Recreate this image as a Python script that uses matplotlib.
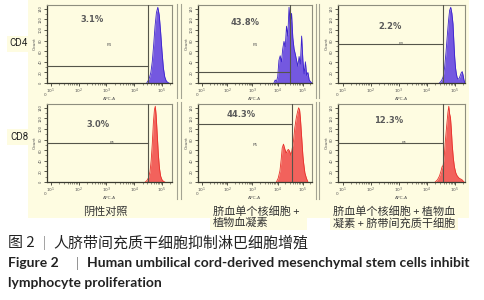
import matplotlib
matplotlib.use('Agg')
import matplotlib.pyplot as plt
from matplotlib.patches import Rectangle
from matplotlib.lines import Line2D
from matplotlib.ticker import FixedLocator

CJK = ['Noto Sans CJK SC', 'DejaVu Sans']
plt.rcParams['font.family'] = ['DejaVu Sans']

W, H = 484, 300

# ---------------- data ----------------
row_labels = ['CD4', 'CD8']
col_labels = [['阴性对照'],
              ['脐血单个核细胞 +', '植物血凝素'],
              ['脐血单个核细胞 + 植物血', '凝素 + 脐带间充质干细胞']]
percents = [['3.1%', '43.8%', '2.2%'],
            ['3.0%', '44.3%', '12.3%']]
gate_names = ['P4', 'P5']
x_tick_values = [1, 2, 3, 4, 5]
x_tick_labels = ['$10^1$', '$10^2$', '$10^3$', '$10^4$', '$10^5$']
y_tick_labels = ['0', '20', '40', '60', '80', '100', '120', '140']

# histograms: x = log10(APC-A), y = relative count
cd4_ctrl_x = [4.45, 4.50, 4.55, 4.60, 4.65, 4.70, 4.75, 4.80, 4.85, 4.90, 4.95, 5.00, 5.05, 5.10, 5.15, 5.20, 5.25]
cd4_ctrl_y = [0.00, 0.03, 0.07, 0.14, 0.28, 0.50, 0.75, 0.93, 1.00, 0.90, 0.68, 0.42, 0.20, 0.08, 0.03, 0.01, 0.00]

cd4_pha_x = [3.85, 3.90, 3.95, 4.00, 4.05, 4.10, 4.15, 4.20, 4.25, 4.30, 4.35, 4.40, 4.45, 4.50, 4.55, 4.60,
             4.65, 4.70, 4.75, 4.80, 4.85, 4.90, 4.95, 5.00, 5.05, 5.10, 5.15, 5.20, 5.25, 5.30, 5.35]
cd4_pha_y = [0.00, 0.04, 0.02, 0.08, 0.30, 0.36, 0.28, 0.45, 0.55, 0.48, 0.75, 0.62, 1.00, 0.78, 0.92, 0.60,
             0.45, 0.38, 0.30, 0.22, 0.35, 0.25, 0.62, 0.30, 0.12, 0.28, 0.10, 0.14, 0.04, 0.02, 0.00]

cd4_msc_x = [4.45, 4.52, 4.58, 4.63, 4.68, 4.73, 4.77, 4.81, 4.85, 4.89, 4.93, 4.96, 4.99, 5.02, 5.05, 5.08,
             5.11, 5.15, 5.19, 5.23, 5.26, 5.29, 5.32, 5.35]
cd4_msc_y = [0.00, 0.03, 0.08, 0.20, 0.40, 0.64, 0.82, 0.96, 1.00, 0.92, 0.78, 0.55, 0.34, 0.20, 0.12, 0.07,
             0.05, 0.06, 0.10, 0.14, 0.15, 0.10, 0.04, 0.00]

cd8_ctrl_x = [4.40, 4.46, 4.52, 4.57, 4.61, 4.65, 4.69, 4.73, 4.76, 4.79, 4.83, 4.87, 4.91, 4.95, 5.00, 5.05, 5.10]
cd8_ctrl_y = [0.00, 0.02, 0.06, 0.14, 0.28, 0.50, 0.78, 0.96, 1.00, 0.88, 0.62, 0.36, 0.18, 0.08, 0.03, 0.01, 0.00]

cd8_pha_x = [3.95, 4.02, 4.09, 4.14, 4.18, 4.23, 4.28, 4.34, 4.39, 4.43, 4.48, 4.53, 4.58, 4.63, 4.68, 4.74,
             4.79, 4.83, 4.87, 4.90, 4.94, 4.97, 5.00, 5.03, 5.08, 5.14, 5.20]
cd8_pha_y = [0.00, 0.05, 0.15, 0.30, 0.45, 0.50, 0.44, 0.38, 0.42, 0.43, 0.40, 0.35, 0.45, 0.55, 0.72, 0.85,
             0.93, 0.98, 0.95, 0.85, 0.65, 0.50, 0.35, 0.25, 0.12, 0.05, 0.00]

cd8_msc_x = [4.30, 4.38, 4.45, 4.50, 4.54, 4.58, 4.62, 4.66, 4.69, 4.72, 4.75, 4.78, 4.81, 4.84, 4.87, 4.90,
             4.94, 4.98, 5.03, 5.08, 5.15, 5.25, 5.32]
cd8_msc_y = [0.00, 0.03, 0.08, 0.14, 0.20, 0.22, 0.35, 0.55, 0.68, 0.80, 0.92, 1.00, 0.90, 0.85, 0.70, 0.50,
             0.32, 0.20, 0.12, 0.08, 0.05, 0.03, 0.00]

hists = [[(cd4_ctrl_x, cd4_ctrl_y), (cd4_pha_x, cd4_pha_y), (cd4_msc_x, cd4_msc_y)],
         [(cd8_ctrl_x, cd8_ctrl_y), (cd8_pha_x, cd8_pha_y), (cd8_msc_x, cd8_msc_y)]]

# gate (vertical position in log10 units, horizontal level in relative count)
gate_x = [[4.50, 4.50, 4.59], [4.50, 4.57, 4.58]]
gate_y = [[0.23, 0.15, 0.52], [0.52, 0.76, 0.52]]

# ---------------- layout / style ----------------
CREAM = '#FEFCE1'
FILL = ['#7458E0', '#F2625C']
EDGE = ['#3B22CC', '#E8302A']
col_geom = [(46.7, 125.0), (198.3, 113.4), (338.3, 126.5)]
row_geom = [(5, 78), (104, 78)]
pct_pos = [[(0.36, 0.82), (0.41, 0.77), (0.41, 0.73)],
           [(0.41, 0.74), (0.38, 0.86), (0.40, 0.79)]]
gname_pos = [[(0.50, 0.49), (0.50, 0.49), (0.50, 0.50)],
             [(0.52, 0.50), (0.50, 0.47), (0.52, 0.50)]]

fig = plt.figure(figsize=(W / 100, H / 100), dpi=100)
fig.patch.set_facecolor('white')


def frect(x0, y0, x1, y1, color):
    fig.patches.append(Rectangle((x0 / W, 1 - y1 / H), (x1 - x0) / W, (y1 - y0) / H,
                                 transform=fig.transFigure, facecolor=color,
                                 edgecolor='none', zorder=-5))


def fline(x0, y0, x1, y1, color, lw):
    fig.lines.append(Line2D([x0 / W, x1 / W], [1 - y0 / H, 1 - y1 / H],
                            transform=fig.transFigure, color=color, lw=lw, zorder=-4))


# cream backgrounds
frect(28, 0, 469, 218, CREAM)
frect(210, 218, 307, 230, CREAM)
frect(330, 218, 458, 230, CREAM)
frect(7, 36, 30, 52, CREAM)
frect(7, 129, 30, 145, CREAM)

# separator double lines
for xs in (177, 180.5, 315.5, 318.5):
    fline(xs, 4, xs, 98, '#A4A493', 0.8)
    fline(xs, 102, xs, 199, '#A4A493', 0.8)

minor_x = [d + m for d in range(1, 6) for m in
           [0.301, 0.477, 0.602, 0.699, 0.778, 0.845, 0.903, 0.954]]

for r, (top, h) in enumerate(row_geom):
    for c, (left, w) in enumerate(col_geom):
        ax = fig.add_axes([left / W, 1 - (top + h) / H, w / W, h / H])
        ax.set_facecolor(CREAM)
        ax.set_xlim(0.85, 5.35)
        ax.set_ylim(0, 1.03)
        hx, hy = hists[r][c]
        ax.fill_between(hx, hy, 0, color=FILL[r], lw=0, zorder=2)
        ax.plot(hx, hy, color=EDGE[r], lw=0.6, zorder=3)
        # gate
        ax.axvline(gate_x[r][c], color='#55554A', lw=0.8, zorder=4)
        ax.plot([0.85, gate_x[r][c]], [gate_y[r][c], gate_y[r][c]],
                color='#55554A', lw=0.8, zorder=4)
        px, py = pct_pos[r][c]
        ax.text(px, py, percents[r][c], transform=ax.transAxes, ha='center', va='center',
                fontsize=6, fontweight='bold', color='#5A5A5A')
        gx, gy = gname_pos[r][c]
        ax.text(gx, gy, gate_names[r], transform=ax.transAxes, ha='center', va='center',
                fontsize=3, color='#555555')
        # spines
        for s in ('top', 'right'):
            ax.spines[s].set_color('#8E8E7E')
            ax.spines[s].set_linewidth(0.8)
        for s in ('left', 'bottom'):
            ax.spines[s].set_color('#3A3A30')
            ax.spines[s].set_linewidth(0.9)
        ax.set_xticks(x_tick_values)
        ax.set_xticklabels(x_tick_labels, fontsize=3.2, color='#555555')
        ax.xaxis.set_minor_locator(FixedLocator(minor_x))
        yt = [i * 0.14 for i in range(len(y_tick_labels))]
        ax.set_yticks(yt)
        ax.set_yticklabels(y_tick_labels, fontsize=2.6, color='#555555', rotation=90, va='center')
        ax.yaxis.set_minor_locator(FixedLocator([v + 0.07 for v in yt]))
        ax.tick_params(axis='both', which='major', length=2, width=0.6, color='#3A3A30', pad=1)
        ax.tick_params(axis='both', which='minor', length=1.2, width=0.4, color='#3A3A30')
        ax.set_xlabel('APC-A', fontsize=3.2, color='#555555', labelpad=0.5)
        ax.set_ylabel('Count', fontsize=3.2, color='#555555', labelpad=1)
        ax.text(-0.01, -0.16, '0', transform=ax.transAxes, fontsize=3, color='#555555',
                ha='center', va='center')

# row labels
fig.text(19 / W, 1 - 43.5 / H, row_labels[0], fontsize=7, family='Roboto', color='#222222',
         ha='center', va='center')
fig.text(19 / W, 1 - 137 / H, row_labels[1], fontsize=7, family='Roboto', color='#222222',
         ha='center', va='center')

# column labels
fig.text(105 / W, 1 - 212 / H, col_labels[0][0], fontsize=8, family=CJK, color='#333333',
         ha='center', va='center')
for i, line in enumerate(col_labels[1]):
    fig.text(213 / W, 1 - (212 + 11 * i) / H, line, fontsize=8, family=CJK, color='#333333',
             ha='left', va='center')
for i, line in enumerate(col_labels[2]):
    fig.text(333 / W, 1 - (212 + 11 * i) / H, line, fontsize=8, family=CJK, color='#333333',
             ha='left', va='center')

# captions
fig.text(8 / W, 1 - 243 / H, '图 2', fontsize=10.8, family=CJK, color='#222222', va='center')
fig.text(43 / W, 1 - 243 / H, '|', fontsize=9, family=CJK, color='#888888', va='center')
fig.text(53 / W, 1 - 243 / H, '人脐带间充质干细胞抑制淋巴细胞增殖', fontsize=10.8, family=CJK,
         color='#222222', va='center')
fig.text(8 / W, 1 - 263 / H, 'Figure 2', fontsize=10, family='Lato', fontweight='bold',
         color='#222222', va='center')
fig.text(76 / W, 1 - 263 / H, '|', fontsize=9, family='Lato', color='#888888', va='center')
fig.text(87 / W, 1 - 263 / H, 'Human umbilical cord-derived mesenchymal stem cells inhibit',
         fontsize=10, family='Lato', fontweight='bold', color='#222222', va='center')
fig.text(8 / W, 1 - 283 / H, 'lymphocyte proliferation', fontsize=10, family='Lato',
         fontweight='bold', color='#222222', va='center')

fig.savefig('out.png', dpi=100, facecolor='white')
